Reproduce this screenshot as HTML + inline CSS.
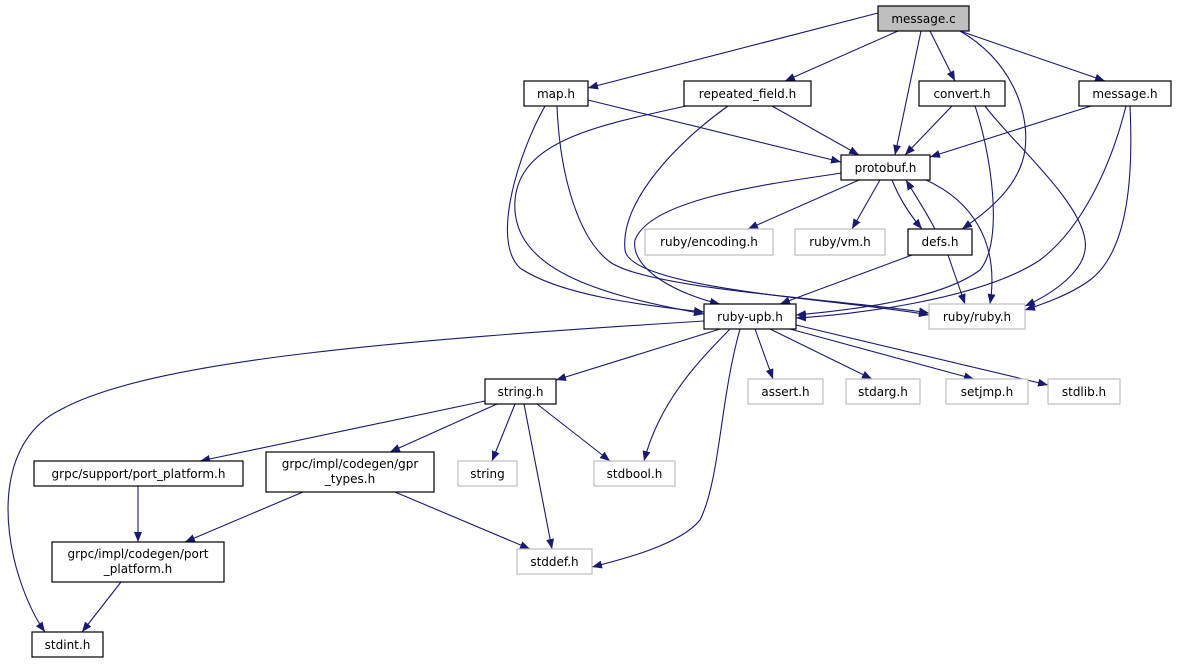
<!DOCTYPE html>
<html><head><meta charset="utf-8"><style>
html,body{margin:0;padding:0;background:#fff}
svg{display:block}
text{font-family:"DejaVu Sans","Liberation Sans",sans-serif;font-size:12px;fill:#000}
.e{fill:none;stroke:#191970;stroke-width:1.1}
.n{fill:#fff;stroke:#000;stroke-width:1.2}
.g{fill:#fff;stroke:#bfbfbf;stroke-width:1.2}
</style></head><body>
<svg width="1178" height="664" viewBox="0 0 1178 664" xmlns="http://www.w3.org/2000/svg">
<defs><marker id="a" markerWidth="10" markerHeight="8" refX="10" refY="4" orient="auto" markerUnits="userSpaceOnUse"><path d="M0,0 L10,4 L0,8 z" fill="#191970"/></marker></defs>
<g class="e" marker-end="url(#a)">
<path d="M878,13 L588,88"/>
<path d="M898,31 L785,81"/>
<path d="M921,31 L895,155"/>
<path d="M930,31 L955,81"/>
<path d="M960,31 C1010,60 1030,110 1025,150 C1020,185 990,210 962,229"/>
<path d="M960,31 L1105,81"/>
<path d="M588,100 L841,162"/>
<path d="M545,106 C520,150 490,240 520,268 C560,295 640,305 704,312"/>
<path d="M557,106 C560,180 580,240 610,262 C650,290 850,300 929,313"/>
<path d="M772,106 L859,155"/>
<path d="M686,106 C600,125 520,140 515,200 C510,270 600,295 704,314"/>
<path d="M728,106 C680,140 620,200 625,250 C630,290 850,300 929,315"/>
<path d="M952,106 L905,155"/>
<path d="M975,106 C990,150 1005,240 980,270 C940,300 850,310 796,315"/>
<path d="M985,106 C1010,140 1080,200 1085,240 C1090,270 1050,295 1025,306"/>
<path d="M1091,106 L930,157"/>
<path d="M1126,106 C1110,170 1080,230 1040,260 C980,300 850,315 796,318"/>
<path d="M1130,106 C1133,170 1130,250 1090,280 C1070,295 1040,305 1025,310"/>
<path d="M859,180 L748,229"/>
<path d="M880,180 L852,229"/>
<path d="M892,180 C900,200 910,215 922,229"/>
<path d="M935,229 C925,210 915,195 906,180"/>
<path d="M842,173 C760,185 650,200 635,240 C630,270 680,295 720,304"/>
<path d="M926,180 C970,200 1000,240 990,304"/>
<path d="M912,255 L780,304"/>
<path d="M948,255 L965,304"/>
<path d="M720,329 L556,380"/>
<path d="M704,321 C400,340 150,360 60,410 C0,440 0,520 20,580 C30,610 40,625 45,632"/>
<path d="M730,329 C700,360 660,400 644,461"/>
<path d="M740,329 C720,400 720,480 700,520 C680,545 620,560 592,567"/>
<path d="M755,329 L773,379"/>
<path d="M770,329 L872,379"/>
<path d="M790,329 L974,379"/>
<path d="M796,325 L1048,385"/>
<path d="M485,401 L200,461"/>
<path d="M497,404 L390,452"/>
<path d="M515,404 L492,461"/>
<path d="M524,404 L552,549"/>
<path d="M537,404 L610,461"/>
<path d="M138,486 L138,542"/>
<path d="M303,492 L185,542"/>
<path d="M395,492 L530,549"/>
<path d="M121,582 L82,632"/>
</g>
<rect x="878" y="6" width="91" height="25" fill="#bfbfbf" stroke="#000" stroke-width="1.2"/><text x="923.5" y="23" text-anchor="middle">message.c</text>
<rect class="n" x="524" y="81" width="64" height="25"/><text x="556" y="98" text-anchor="middle">map.h</text>
<rect class="n" x="684" y="81" width="127" height="25"/><text x="747.5" y="98" text-anchor="middle">repeated_field.h</text>
<rect class="n" x="919" y="81" width="86" height="25"/><text x="962" y="98" text-anchor="middle">convert.h</text>
<rect class="n" x="1079" y="81" width="92" height="25"/><text x="1125" y="98" text-anchor="middle">message.h</text>
<rect class="n" x="841" y="155" width="89" height="25"/><text x="885.5" y="172" text-anchor="middle">protobuf.h</text>
<rect class="g" x="645" y="229" width="128" height="26"/><text x="709" y="246" text-anchor="middle">ruby/encoding.h</text>
<rect class="g" x="795" y="229" width="90" height="26"/><text x="840" y="246" text-anchor="middle">ruby/vm.h</text>
<rect class="n" x="908" y="229" width="64" height="26"/><text x="940" y="246" text-anchor="middle">defs.h</text>
<rect class="n" x="704" y="304" width="92" height="25"/><text x="750" y="321" text-anchor="middle">ruby-upb.h</text>
<rect class="g" x="929" y="304" width="96" height="25"/><text x="977" y="321" text-anchor="middle">ruby/ruby.h</text>
<rect class="n" x="485" y="379" width="71" height="25"/><text x="520.5" y="396" text-anchor="middle">string.h</text>
<rect class="g" x="748" y="379" width="75" height="25"/><text x="785.5" y="396" text-anchor="middle">assert.h</text>
<rect class="g" x="846" y="379" width="74" height="25"/><text x="883" y="396" text-anchor="middle">stdarg.h</text>
<rect class="g" x="946" y="379" width="82" height="25"/><text x="987" y="396" text-anchor="middle">setjmp.h</text>
<rect class="g" x="1048" y="379" width="72" height="25"/><text x="1084" y="396" text-anchor="middle">stdlib.h</text>
<rect class="n" x="34" y="461" width="209" height="25"/><text x="138.5" y="478" text-anchor="middle">grpc/support/port_platform.h</text>
<rect class="n" x="266" y="452" width="168" height="40"/><text x="350" y="468" text-anchor="middle">grpc/impl/codegen/gpr</text><text x="350" y="483" text-anchor="middle">_types.h</text>
<rect class="g" x="458" y="461" width="59" height="25"/><text x="487.5" y="478" text-anchor="middle">string</text>
<rect class="g" x="594" y="461" width="81" height="25"/><text x="634.5" y="478" text-anchor="middle">stdbool.h</text>
<rect class="n" x="52" y="542" width="172" height="40"/><text x="138" y="558" text-anchor="middle">grpc/impl/codegen/port</text><text x="138" y="573" text-anchor="middle">_platform.h</text>
<rect class="g" x="517" y="549" width="75" height="25"/><text x="554.5" y="566" text-anchor="middle">stddef.h</text>
<rect class="n" x="32" y="632" width="71" height="25"/><text x="67.5" y="649" text-anchor="middle">stdint.h</text>
</svg>
</body></html>
